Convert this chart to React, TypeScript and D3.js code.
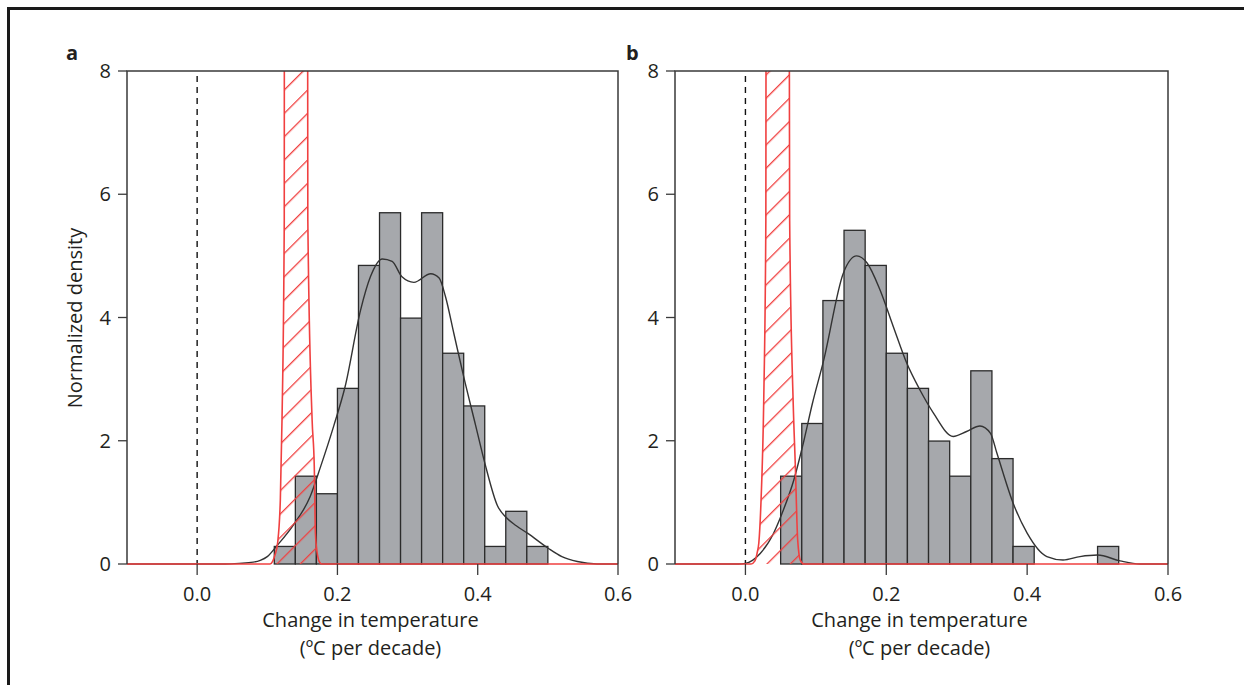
import React from 'react';
import * as d3 from 'd3';

// histogram bins (left edges) and normalized densities, bin width 0.03
const binWidth = 0.03;
const binLeftA = [0.11, 0.14, 0.17, 0.2, 0.23, 0.26, 0.29, 0.32, 0.35, 0.38, 0.41, 0.44, 0.47];
const densityA = [0.285, 1.425, 1.14, 2.85, 4.845, 5.7, 3.99, 5.7, 3.42, 2.565, 0.285, 0.855, 0.285];
const binLeftB = [0.05, 0.08, 0.11, 0.14, 0.17, 0.2, 0.23, 0.26, 0.29, 0.32, 0.35, 0.38, 0.5];
const densityB = [1.425, 2.28, 4.275, 5.415, 4.845, 3.42, 2.85, 1.995, 1.425, 3.135, 1.71, 0.285, 0.285];

// smoothed density curves [x, density]
const kdeA: [number, number][] = [
  [-0.1, 0], [0.04, 0], [0.06, 0.01], [0.08, 0.03], [0.09, 0.06], [0.1, 0.12], [0.114, 0.3],
  [0.1376, 0.64], [0.161, 1.09], [0.176, 1.58], [0.195, 2.25], [0.211, 2.88], [0.233, 4.12],
  [0.247, 4.66], [0.264, 4.95], [0.278, 4.91], [0.292, 4.66], [0.309, 4.57], [0.333, 4.71],
  [0.345, 4.64], [0.354, 4.34], [0.366, 3.74], [0.38, 3.04], [0.397, 2.25], [0.411, 1.6],
  [0.428, 0.95], [0.441, 0.75], [0.455, 0.62], [0.471, 0.5], [0.5, 0.26], [0.52, 0.12],
  [0.542, 0.04], [0.57, 0], [0.6, 0],
];
const kdeB: [number, number][] = [
  [-0.1, 0], [-0.01, 0], [0.0, 0.01], [0.01, 0.06], [0.021, 0.17], [0.04, 0.5], [0.054, 0.88],
  [0.0686, 1.36], [0.083, 2.0], [0.095, 2.6], [0.111, 3.3], [0.139, 4.72], [0.158, 5.0],
  [0.173, 4.88], [0.191, 4.45], [0.21, 3.85], [0.229, 3.26], [0.248, 2.82], [0.267, 2.45],
  [0.295, 2.07], [0.314, 2.15], [0.333, 2.24], [0.348, 2.12], [0.357, 1.8], [0.38, 0.99],
  [0.4, 0.5], [0.428, 0.12], [0.451, 0.065], [0.475, 0.12], [0.5, 0.145], [0.532, 0.05],
  [0.56, 0], [0.6, 0],
];

// observed trend density (red, hatched) - runs off the top of the axes
const obsA: [number, number][] = [
  [-0.1, 0], [0.104, 0], [0.108, 0.05], [0.111, 0.15], [0.1147, 0.34], [0.1186, 1.04],
  [0.121, 2.34], [0.1242, 5.58], [0.1243, 8], [0.1245, 10], [0.1575, 10], [0.1576, 8],
  [0.1578, 5.58], [0.1639, 2.34], [0.167, 1.58], [0.1686, 0.5], [0.172, 0.12], [0.175, 0.02],
  [0.178, 0], [0.6, 0],
];
const obsB: [number, number][] = [
  [-0.1, 0], [0.008, 0], [0.0135, 0.05], [0.017, 0.2], [0.019, 0.34], [0.0222, 1.04],
  [0.026, 2.66], [0.029, 5.6], [0.0292, 8], [0.0295, 10], [0.062, 10], [0.0624, 8],
  [0.0628, 5.58], [0.0677, 2.66], [0.0709, 1.58], [0.0742, 0.39], [0.078, 0.06], [0.083, 0],
  [0.6, 0],
];

const xTicks = [0.0, 0.2, 0.4, 0.6];
const yTicks = [0, 2, 4, 6, 8];

const FONT = '"Open Sans", "Noto Sans", sans-serif';
const TEXT = '#231f20';
const RED = '#f04040';

const top = 71;
const bottom = 564;

type PanelProps = {
  id: string;
  letter: string;
  letterX: number;
  x0: number;
  x1: number;
  binLeft: number[];
  density: number[];
  kde: [number, number][];
  obs: [number, number][];
  yTitle?: boolean;
};

const Panel = ({ id, letter, letterX, x0, x1, binLeft, density, kde, obs, yTitle }: PanelProps) => {
  const x = d3.scaleLinear().domain([-0.1, 0.6]).range([x0, x1]);
  const y = d3.scaleLinear().domain([0, 8]).range([bottom, top]);

  const line = d3.line<[number, number]>()
    .x(d => x(d[0]))
    .y(d => y(d[1]))
    .curve(d3.curveMonotoneX);

  const area = d3.area<[number, number]>()
    .x(d => x(d[0]))
    .y0(y(0))
    .y1(d => y(d[1]))
    .curve(d3.curveMonotoneX);

  const cx = (x0 + x1) / 2;

  return (
    <g>
      <defs>
        <clipPath id={`clip-${id}`}>
          <rect x={x0} y={top} width={x1 - x0} height={bottom - top + 2} />
        </clipPath>
        <pattern id={`hatch-${id}`} patternUnits="userSpaceOnUse" width={16.5} height={16.5}
          patternTransform="rotate(45)">
          <line x1={0} y1={0} x2={0} y2={16.5} stroke={RED} strokeWidth={2.6} />
        </pattern>
      </defs>

      {/* zero line */}
      <line x1={x(0)} x2={x(0)} y1={top + 5} y2={bottom} stroke="#111" strokeWidth={1.4}
        strokeDasharray="6,5" />

      {/* histogram */}
      {binLeft.map((b, i) => (
        <rect key={i} x={x(b)} y={y(density[i])} width={x(b + binWidth) - x(b)}
          height={y(0) - y(density[i])} fill="#a6a8ac" stroke="#2b2b2b" strokeWidth={1.3} />
      ))}

      {/* smoothed distribution */}
      <path d={line(kde) ?? ''} fill="none" stroke="#333" strokeWidth={1.4} />

      {/* observed trend */}
      <g clipPath={`url(#clip-${id})`}>
        <path d={area(obs) ?? ''} fill={`url(#hatch-${id})`} />
        <path d={line(obs) ?? ''} fill="none" stroke={RED} strokeWidth={1.6} />
      </g>

      {/* frame */}
      <path d={`M${x0},${bottom}V${top}H${x1}V${bottom}`} fill="none" stroke="#3a3a3a"
        strokeWidth={1.5} />

      {/* y axis */}
      {yTicks.map(t => (
        <g key={t}>
          <line x1={x0 - 9} x2={x0} y1={y(t)} y2={y(t)} stroke="#3a3a3a" strokeWidth={1.3} />
          <text x={x0 - 16} y={y(t)} dy="0.36em" textAnchor="end" fontSize={20}
            fontFamily={FONT} fill={TEXT}>{t}</text>
        </g>
      ))}

      {/* x axis */}
      {xTicks.map(t => (
        <g key={t}>
          <line x1={x(t)} x2={x(t)} y1={bottom} y2={bottom + 11} stroke="#3a3a3a"
            strokeWidth={1.3} />
          <text x={x(t)} y={601} textAnchor="middle" fontSize={20} fontFamily={FONT}
            fill={TEXT}>{t.toFixed(1)}</text>
        </g>
      ))}

      <text x={cx - 2} y={627} textAnchor="middle" fontSize={20} fontFamily={FONT} fill={TEXT}>
        Change in temperature
      </text>
      <text x={cx - 2} y={655} textAnchor="middle" fontSize={20} fontFamily={FONT} fill={TEXT}>
        (ºC per decade)
      </text>

      {yTitle && (
        <text transform={`translate(${x0 - 52},${318}) rotate(-90)`}
          textAnchor="middle" dy="0.35em" fontSize={20} fontFamily={FONT} fill={TEXT}>
          Normalized density
        </text>
      )}

      <text x={letterX} y={60} fontSize={20} fontWeight="bold" fontFamily={FONT} fill={TEXT}>
        {letter}
      </text>
    </g>
  );
};

export default function App() {
  return (
    <svg width={1244} height={685} style={{ position: 'absolute', left: 0, top: 0 }}
      fontFamily={FONT}>
      <rect width={1244} height={685} fill="#fff" />
      <path d="M8.5,685V8.5H1244" fill="none" stroke="#1a1a1a" strokeWidth={3} />
      <Panel id="a" letter="a" letterX={66} x0={127} x1={618} binLeft={binLeftA}
        density={densityA} kde={kdeA} obs={obsA} yTitle />
      <Panel id="b" letter="b" letterX={626} x0={675} x1={1168} binLeft={binLeftB}
        density={densityB} kde={kdeB} obs={obsB} />
    </svg>
  );
}
